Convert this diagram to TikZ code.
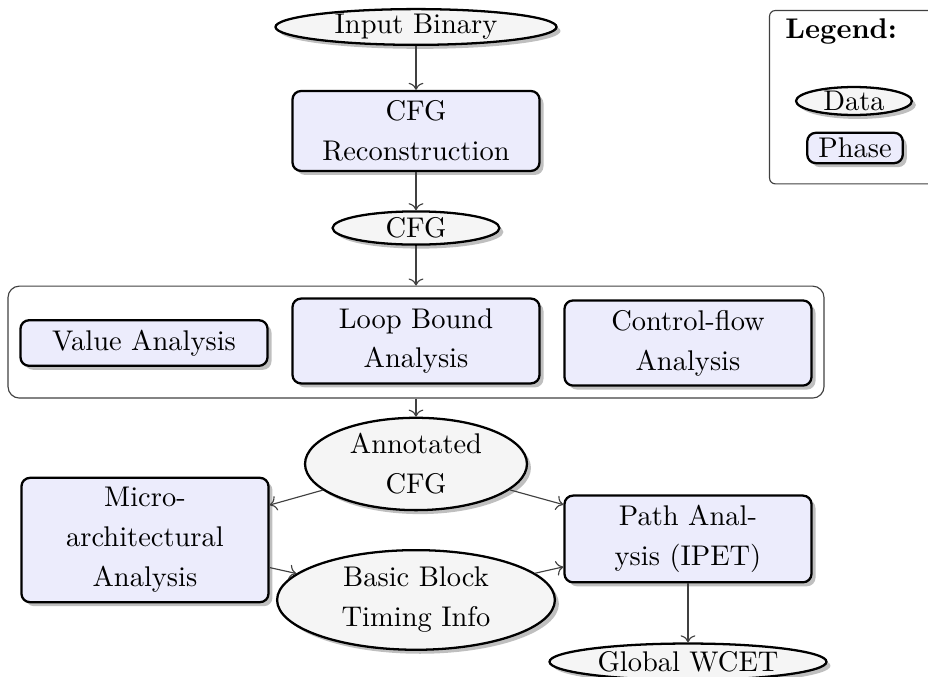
\documentclass[tikz,border=0pt]{standalone}
\usepackage{amsmath}
\usepackage{tikz}
\usetikzlibrary{positioning,arrows.meta,shapes.geometric,shadows,fit}
\usepackage{xcolor}
\definecolor{phaseFill}{HTML}{ECECFC}
\definecolor{dataFill}{HTML}{F5F5F5}

\begin{document}
\begin{tikzpicture}[
    dataNode/.style={ellipse, draw=black, fill=dataFill, thick, inner sep=0pt, align=center, font=\fontsize{10}{14}\selectfont, drop shadow={shadow xshift=1.4pt, shadow yshift=-1.4pt}},
    phaseBox/.style={rectangle, rounded corners=3pt, draw=black, fill=phaseFill, thick, align=center, text width=2.75cm, inner xsep=0.15cm, inner ysep=3.4pt, font=\fontsize{10}{14}\selectfont, drop shadow={shadow xshift=1.4pt, shadow yshift=-1.4pt}},
    groupBox/.style={rectangle, rounded corners=4pt, draw=black!75, inner sep=0.14cm},
    legendBox/.style={rectangle, rounded corners=2pt, draw=black!75, anchor=north west},
    arrowStyle/.style={->, draw=black!75}
]
    \useasboundingbox (0,0) rectangle (11.457,-8.358);

    % main column
    \node[dataNode, minimum width=3.47cm, minimum height=0.43cm] (input) at (5.136,-0.333) {Input Binary};
    \node[phaseBox] (recon) at (5.136,-1.617) {CFG\\Reconstruction};
    \node[dataNode, minimum width=2.06cm, minimum height=0.41cm] (cfg) at (5.136,-2.815) {CFG};

    % analyses on the CFG
    \node[phaseBox] (value) at (1.778,-4.235) {Value Analysis};
    \node[phaseBox] (loop) at (5.136,-4.21) {Loop Bound\\Analysis};
    \node[phaseBox] (cflow) at (8.494,-4.235) {Control-flow\\Analysis};
    \node[groupBox, fit=(value)(loop)(cflow)] (group) {};

    \node[dataNode, minimum width=2.74cm, minimum height=1.14cm] (annot) at (5.136,-5.728) {Annotated\\CFG};
    \node[phaseBox] (micro) at (1.79,-6.667) {Micro-architectural Analysis};
    \node[phaseBox] (path) at (8.494,-6.654) {Path Analysis (IPET)};
    \node[dataNode, minimum width=3.43cm, minimum height=1.23cm] (timing) at (5.136,-7.407) {Basic Block\\Timing Info};
    \node[dataNode, minimum width=3.42cm, minimum height=0.45cm] (wcet) at (8.494,-8.17) {Global WCET};

    % legend
    \node[legendBox, minimum width=2.12cm, minimum height=2.14cm] (legend) at (9.494,-0.123) {};
    \node[font=\bfseries, anchor=base west, inner sep=0pt] (legendTitle) at (9.69,-0.47) {Legend:};
    \node[dataNode, minimum width=1.43cm, minimum height=0.33cm] (legendData) at (10.543,-1.247) {Data};
    \node[phaseBox, text width=, inner xsep=3.9pt, inner ysep=1.8pt] (legendPhase) at (10.556,-1.827) {Phase};

    \draw[arrowStyle] (input) -- (recon);
    \draw[arrowStyle] (recon) -- (cfg);
    \draw[arrowStyle] (cfg) -- (group);
    \draw[arrowStyle] (group) -- (annot);
    \draw[arrowStyle] (annot) -- (micro);
    \draw[arrowStyle] (annot) -- (path);
    \draw[arrowStyle] (micro) -- (timing);
    \draw[arrowStyle] (timing) -- (path);
    \draw[arrowStyle] (path) -- (wcet);
\end{tikzpicture}
\end{document}
